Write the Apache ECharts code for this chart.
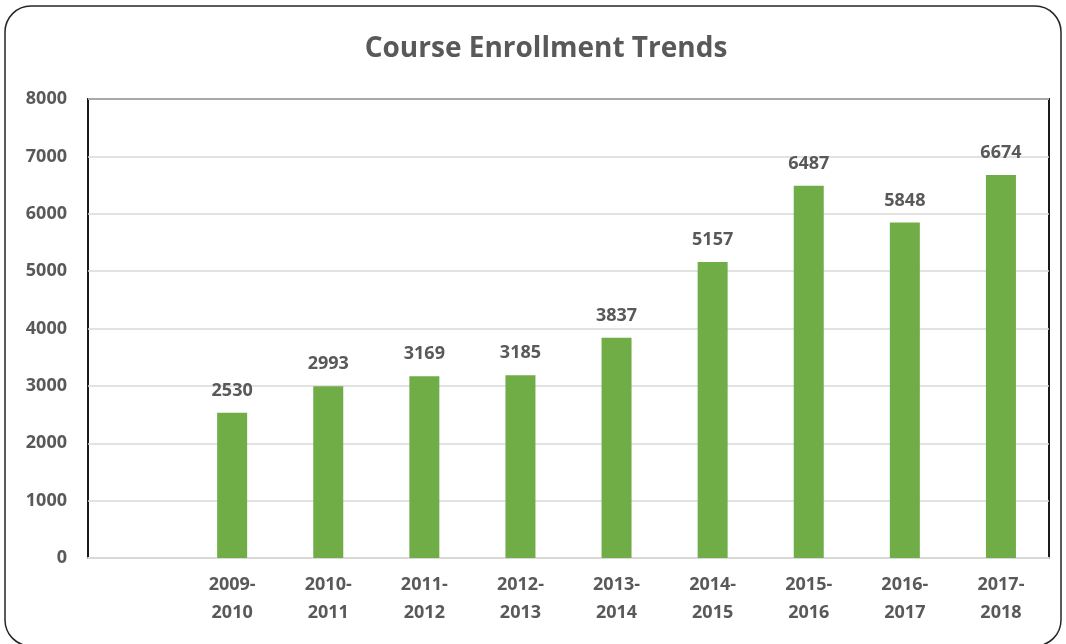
<!DOCTYPE html>
<html>
<head>
<meta charset="utf-8">
<script src="https://cdn.jsdelivr.net/npm/echarts@6/dist/echarts.min.js"></script>
<style>
  html, body { margin: 0; padding: 0; background: #fff; }
  #main { width: 1066px; height: 644px; }
</style>
</head>
<body>
<div id="main"></div>
<script>
// 学年 (first slot is left empty in the original)
var years = ['', '2009-\n2010', '2010-\n2011', '2011-\n2012', '2012-\n2013', '2013-\n2014',
             '2014-\n2015', '2015-\n2016', '2016-\n2017', '2017-\n2018'];
var enrollment = [null, 2530, 2993, 3169, 3185, 3837, 5157, 6487, 5848, 6674];
var yTicks = [0, 1000, 2000, 3000, 4000, 5000, 6000, 7000, 8000];

var textColor = '#595959';
var fontFam = '"Open Sans", "Noto Sans", sans-serif';

var myChart = echarts.init(document.getElementById('main'));
var option = {
    animation: false,
    title: {
        text: 'Course Enrollment Trends',
        left: 541,
        textAlign: 'center',
        top: 30,
        textStyle: { fontFamily: fontFam, fontSize: 28, fontWeight: 'bold', color: textColor }
    },
    graphic: [{
        type: 'rect',
        shape: { x: 5, y: 6, width: 1056, height: 640, r: 26 },
        style: { fill: 'none', stroke: '#262626', lineWidth: 1.5 },
        silent: true
    }],
    grid: {
        left: 88, right: 17, top: 99, bottom: 86,
        show: true,
        borderColor: '#1a1a1a',
        borderWidth: 2
    },
    xAxis: {
        type: 'category',
        data: years,
        axisTick: { show: false },
        axisLine: { lineStyle: { color: '#d9d9d9', width: 2 } },
        axisLabel: {
            interval: 0, margin: 13, lineHeight: 28,
            fontFamily: fontFam, fontSize: 18, fontWeight: 'bold', color: textColor
        }
    },
    yAxis: {
        type: 'value',
        min: yTicks[0],
        max: yTicks[yTicks.length - 1],
        interval: 1000,
        axisLine: { show: false },
        axisTick: { show: false },
        splitLine: { lineStyle: { color: '#d9d9d9', width: 1.5 } },
        axisLabel: {
            margin: 21,
            formatter: function (v) { return String(v); },
            fontFamily: fontFam, fontSize: 18, fontWeight: 'bold', color: textColor
        }
    },
    series: [{
        type: 'bar',
        data: enrollment,
        barWidth: 30,
        itemStyle: { color: '#70ad47' },
        label: {
            show: true, position: 'top', distance: 13,
            fontFamily: fontFam, fontSize: 18, fontWeight: 'bold', color: textColor
        }
    }]
};
myChart.setOption(option);
</script>
</body>
</html>
